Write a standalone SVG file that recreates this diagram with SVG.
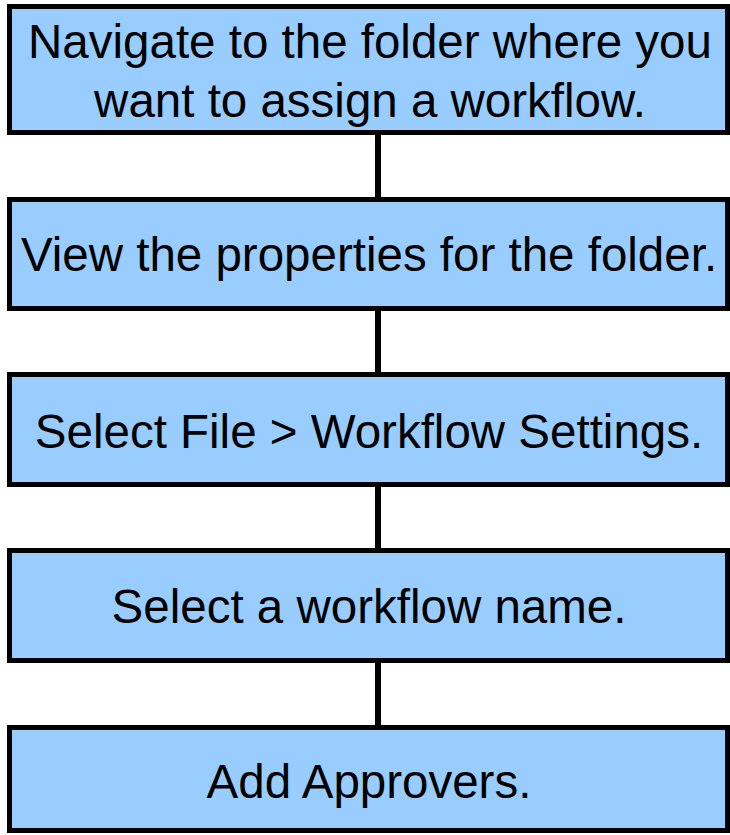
<svg xmlns="http://www.w3.org/2000/svg" width="730" height="835" viewBox="0 0 730 835">
<style>
.box{fill:#99CCFF;stroke:#000;stroke-width:5}
.lbl{font-family:"Liberation Sans",Arial,sans-serif;font-size:47.5px;fill:#000;text-anchor:middle}
.conn{stroke:#000;stroke-width:6;fill:none}
</style>
<rect width="730" height="835" fill="#fff"/>
<g id="connectors">
<line class="conn" x1="378" y1="133" x2="378" y2="199"/>
<line class="conn" x1="378" y1="309" x2="378" y2="374"/>
<line class="conn" x1="378" y1="485" x2="378" y2="550"/>
<line class="conn" x1="378" y1="661" x2="378" y2="727"/>
</g>
<g id="n1">
<rect class="box" x="9.5" y="6.5" width="718" height="126"/>
<text class="lbl" x="370" y="58">Navigate to the folder where you</text>
<text class="lbl" x="370" y="117">want to assign a workflow.</text>
</g>
<g id="n2">
<rect class="box" x="9.5" y="199.5" width="718" height="109"/>
<text class="lbl" x="369" y="271">View the properties for the folder.</text>
</g>
<g id="n3">
<rect class="box" x="9.5" y="374.5" width="718" height="110"/>
<text class="lbl" x="369" y="447.5">Select File &gt; Workflow Settings.</text>
</g>
<g id="n4">
<rect class="box" x="9.5" y="550.5" width="718" height="110"/>
<text class="lbl" x="369" y="623">Select a workflow name.</text>
</g>
<g id="n5">
<rect class="box" x="9.5" y="727.5" width="718" height="103"/>
<text class="lbl" x="369" y="798">Add Approvers.</text>
</g>
</svg>
